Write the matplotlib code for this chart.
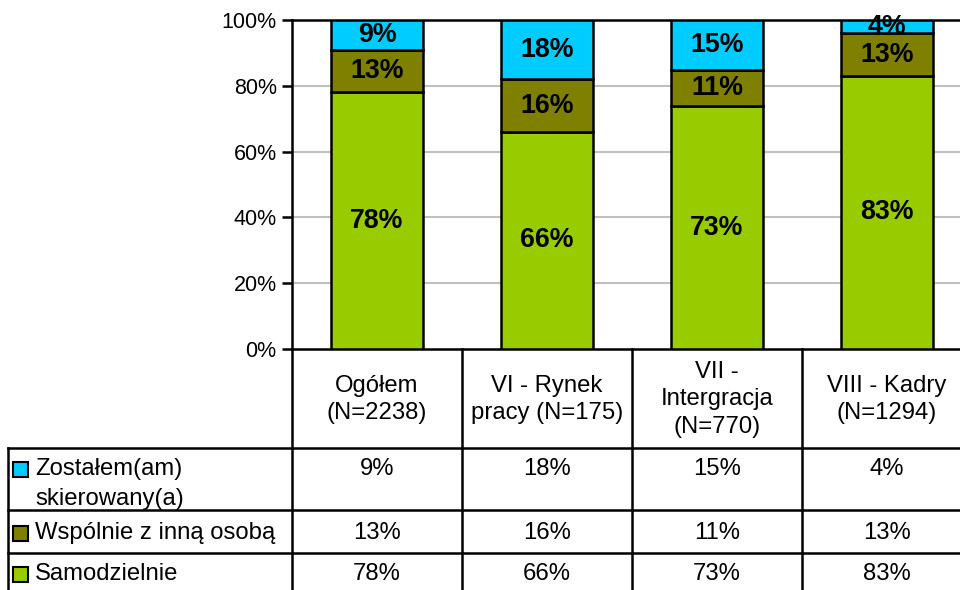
import numpy as np
import matplotlib.pyplot as plt
from matplotlib.patches import Rectangle

plt.rcParams['font.family'] = ['Liberation Sans', 'DejaVu Sans']

categories = ['Ogółem\n(N=2238)', 'VI - Rynek\npracy (N=175)', 'VII -\nIntergracja\n(N=770)', 'VIII - Kadry\n(N=1294)']
series = ['Samodzielnie', 'Wspólnie z inną osobą', 'Zostałem(am)\nskierowany(a)']
samodzielnie = [78, 66, 73, 83]
wspolnie = [13, 16, 11, 13]
skierowany = [9, 18, 15, 4]
colors = ['#99CC00', '#808000', '#00CCFF']
yticks = [0, 20, 40, 60, 80, 100]

W, H = 960, 590
fig = plt.figure(figsize=(9.6, 5.9), dpi=100)

# plot area in pixels
left, right, top, bottom = 292, 972, 20, 349
ax = fig.add_axes([left / W, 1 - bottom / H, (right - left) / W, (bottom - top) / H])

x = np.arange(len(categories))
vals = [samodzielnie, wspolnie, skierowany]
total = np.sum(vals, axis=0)
base = np.zeros(len(categories))
for v, c in zip(vals, colors):
    v = np.array(v)
    h = v / total * 100  # 100% stacked
    ax.bar(x, h, 0.54, bottom=base, color=c, edgecolor='black', linewidth=1.8, zorder=3)
    for xi, b, hi, vi in zip(x, base, h, v):
        ax.text(xi, b + hi / 2, f'{vi}%', ha='center', va='center', fontsize=19.3,
                fontweight='bold', zorder=4, clip_on=False)
    base = base + h

ax.set_xlim(-0.5, 3.5)
ax.set_ylim(0, 100)
ax.set_yticks(yticks)
ax.set_yticklabels([f'{t}%' for t in yticks], fontsize=15.5)
ax.set_xticks([])
for t in yticks[1:-1]:
    ax.axhline(t, color='#c0c0c0', linewidth=1.5, zorder=1)
ax.spines['right'].set_visible(False)
for s in ['left', 'top', 'bottom']:
    ax.spines[s].set_linewidth(1.8)
ax.tick_params(axis='y', length=7, width=1.8, pad=4)

# data table drawn in pixel coordinates
tab = fig.add_axes([0, 0, 1, 1])
tab.set_xlim(0, W)
tab.set_ylim(H, 0)
tab.axis('off')
tab.patch.set_alpha(0)

col_w = (right - left) / len(categories)
col_x = [left + i * col_w for i in range(len(categories) + 1)]
row_y = [bottom, 448, 510, 553, 600]
lab_x = 8
lw = 1.8
fs = 17.2

for cx in col_x:
    tab.plot([cx, cx], [bottom, H], color='black', lw=lw, clip_on=False)
tab.plot([lab_x, lab_x], [row_y[1], H], color='black', lw=lw)
for ry in row_y[1:4]:
    tab.plot([lab_x, right], [ry, ry], color='black', lw=lw, clip_on=False)

for i, cat in enumerate(categories):
    tab.text(col_x[i] + col_w / 2, (row_y[0] + row_y[1]) / 2 + 1, cat, ha='center', va='center',
             fontsize=fs, linespacing=1.33)

# table rows in order: skierowany, wspolnie, samodzielnie
rows = [(series[2], skierowany, colors[2]), (series[1], wspolnie, colors[1]), (series[0], samodzielnie, colors[0])]
text_y = [469, 533, 574]
for r, (name, v, c) in enumerate(rows):
    ty = text_y[r]
    tab.add_patch(Rectangle((13, ty - 7), 15, 15, facecolor=c, edgecolor='black', lw=1.5))
    if r == 0:
        tab.text(35, ty - 11, name, ha='left', va='top', fontsize=fs, linespacing=1.5)
    else:
        tab.text(35, ty, name, ha='left', va='center', fontsize=fs)
    for i, vi in enumerate(v):
        tab.text(col_x[i] + col_w / 2, ty, f'{vi}%', ha='center', va='center', fontsize=fs)

fig.savefig('out.png', dpi=100)
